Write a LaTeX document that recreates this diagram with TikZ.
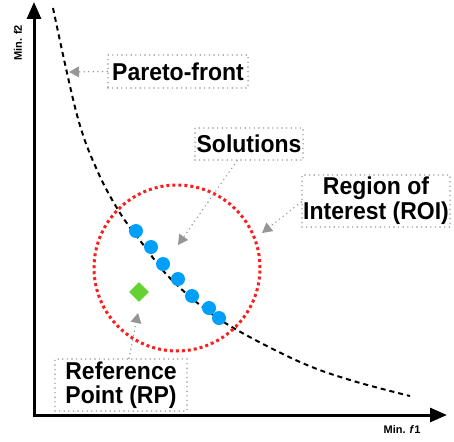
\documentclass[tikz,border=0pt]{standalone}
\usepackage{fontspec}
\setmainfont{Liberation Sans}
\usetikzlibrary{arrows.meta,shapes.geometric}
\definecolor{dotgray}{RGB}{150,150,150}
\definecolor{roired}{RGB}{250,30,30}
\definecolor{solblue}{RGB}{0,160,250}
\definecolor{rpgreen}{RGB}{100,210,50}
\newcommand{\tallt}[1]{\scalebox{1}[1.06]{#1}}
\tikzset{
  lbl/.style={draw=dotgray, line width=1.6pt, dash pattern=on 0pt off 4.6pt, line cap=round,
    font=\fontsize{23}{22}\selectfont\bfseries, align=center, inner sep=0pt},
  pointer/.style={draw=dotgray, line width=1.6pt, dash pattern=on 0pt off 4.6pt, line cap=round,
    -{Triangle[length=10pt,width=11pt,fill=dotgray,line width=0pt,color=dotgray]}},
  axis/.style={line width=3pt, -{Triangle[length=17pt,width=14pt]}},
  sol/.style={circle, fill=solblue, minimum size=14pt, inner sep=0pt},
  axlbl/.style={font=\fontsize{11}{12}\selectfont\bfseries, inner sep=0pt},
}
\begin{document}
\begin{tikzpicture}[x=1pt,y=-1pt]
\useasboundingbox (0,0) rectangle (454,441);
% axes
\coordinate (O) at (34,415);
\coordinate (ytop) at (34,2);
\coordinate (xend) at (447,415);
\draw[axis] ([yshift=-1.5pt]O) -- (ytop);
\draw[axis] ([xshift=-1.5pt]O) -- (xend);
\node[axlbl, rotate=90] (ylab) at (18,43) {Min. f2};
\node[axlbl] (xlab) at (402,430) {Min. \textit{f}1};
% pareto front
\draw[line width=2pt, dash pattern=on 5pt off 4pt]
  plot[smooth, tension=0.6] coordinates {(53,8) (77,115) (97,170) (120,213) (145,247) (167,275) (200,305) (237,330) (300,362) (350,380) (410,396)};
% region of interest
\node[draw=roired, circle, line width=3pt, dash pattern=on 3pt off 3pt, minimum size=166pt, inner sep=0pt] (roi) at (177,268) {};
% solutions
\node[sol] (s1) at (136,231) {};
\node[sol] (s2) at (151,247) {};
\node[sol] (s3) at (163,264) {};
\node[sol] (s4) at (178,279) {};
\node[sol] (s5) at (192,296) {};
\node[sol] (s6) at (209,308) {};
\node[sol] (s7) at (219,318) {};
% reference point
\node[diamond, fill=rpgreen, minimum size=20pt, inner sep=0pt] (rp) at (139,292) {};
% labels
\node[lbl, minimum width=140pt, minimum height=33pt] (lpf) at (178,71.5) {\tallt{Pareto-front}};
\node[lbl, minimum width=108pt, minimum height=32pt] (lsol) at (249,144) {\tallt{Solutions}};
\node[lbl, minimum width=148pt, minimum height=52pt, font=\fontsize{23}{25}\selectfont\bfseries] (lroi) at (376,201) {\tallt{Region of}\\\tallt{Interest (ROI)}};
\node[lbl, minimum width=132pt, minimum height=52pt, font=\fontsize{23}{24}\selectfont\bfseries] (lrp) at (121,385) {\tallt{Reference}\\\tallt{Point (RP)}};
% pointers
\coordinate (tpf) at (69,72);
\coordinate (tsol) at (178,245);
\coordinate (troi) at (262,233);
\coordinate (trp) at (138,313);
\draw[pointer] (lpf.west) -- (tpf);
\draw[pointer] ([xshift=-12pt]lsol.south) -- (tsol);
\draw[pointer] ([yshift=-1pt]lroi.west) -- (troi);
\draw[pointer] ([xshift=8pt]lrp.north) -- (trp);
\end{tikzpicture}
\end{document}
